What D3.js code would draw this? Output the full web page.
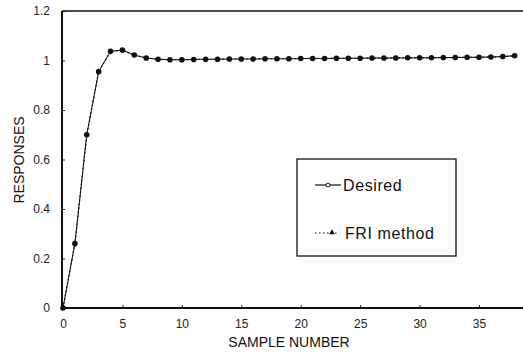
<!DOCTYPE html>
<html>
<head>
<meta charset="utf-8">
<script src="https://cdn.jsdelivr.net/npm/d3@7"></script>
<style>
  html, body { margin: 0; padding: 0; background: #fff; }
  svg { display: block; font-family: "Liberation Sans", Arial, Helvetica, sans-serif; }
</style>
</head>
<body>
<svg id="chart" width="523" height="353"></svg>
<script>
// ---- data ----
const samples = [0,1,2,3,4,5,6,7,8,9,10,11,12,13,14,15,16,17,18,19,20,21,22,23,24,25,26,27,28,29,30,31,32,33,34,35,36,37,38];
const desired = [0, 0.26, 0.70, 0.955, 1.037, 1.042, 1.022, 1.010, 1.005, 1.003, 1.003, 1.004, 1.005, 1.005, 1.006, 1.006, 1.006, 1.007, 1.007, 1.007, 1.008, 1.008, 1.008, 1.009, 1.009, 1.009, 1.010, 1.010, 1.010, 1.011, 1.011, 1.011, 1.012, 1.012, 1.013, 1.013, 1.014, 1.016, 1.019];
const friMethod = [0, 0.26, 0.70, 0.955, 1.037, 1.042, 1.022, 1.010, 1.005, 1.003, 1.003, 1.004, 1.005, 1.005, 1.006, 1.006, 1.006, 1.007, 1.007, 1.007, 1.008, 1.008, 1.008, 1.009, 1.009, 1.009, 1.010, 1.010, 1.010, 1.011, 1.011, 1.011, 1.012, 1.012, 1.013, 1.013, 1.014, 1.016, 1.019];
const xTicks = [0, 5, 10, 15, 20, 25, 30, 35];
const xTickLabels = ["0", "5", "10", "15", "20", "25", "30", "35"];
const yTicks = [0, 0.2, 0.4, 0.6, 0.8, 1.0, 1.2];
const yTickLabels = ["0", "0.2", "0.4", "0.6", "0.8", "1", "1.2"];
const seriesNames = ["Desired", "FRI method"];
const xTitle = "SAMPLE NUMBER";
const yTitle = "RESPONSES";

(function () {
// ---- layout ----
const svg = d3.select("#chart");
const padL = 62, padR = 523, padT = 11, padB = 308;
const x = d3.scaleLinear().domain([0, 38.7]).range([63, padR]);
const y = d3.scaleLinear().domain([0, 1.2]).range([padB, padT]);

// axes (inward ticks)
const xAxis = d3.axisBottom(x).tickValues(xTicks)
  .tickFormat((d, i) => xTickLabels[i]).tickSizeInner(-3).tickSizeOuter(0).tickPadding(11);
const yAxis = d3.axisLeft(y).tickValues(yTicks)
  .tickFormat((d, i) => yTickLabels[i]).tickSizeInner(-3).tickSizeOuter(0).tickPadding(12);

const gx = svg.append("g").attr("transform", `translate(0,${padB})`).call(xAxis);
gx.select(".domain").remove();
gx.selectAll("text").attr("font-size", 12).attr("fill", "#222");
gx.selectAll("line").attr("stroke", "#222");

const gy = svg.append("g").attr("transform", `translate(${padL},0)`).call(yAxis);
gy.select(".domain").remove();
gy.selectAll("text").attr("font-size", 12).attr("fill", "#222");
gy.selectAll("line").attr("stroke", "#222");

// frame lines
svg.append("line").attr("x1", padL).attr("x2", padR).attr("y1", padB).attr("y2", padB)
  .attr("stroke", "#111").attr("stroke-width", 2);
svg.append("line").attr("x1", padL).attr("x2", padL).attr("y1", padT).attr("y2", padB)
  .attr("stroke", "#111").attr("stroke-width", 2);
svg.append("line").attr("x1", padL).attr("x2", padR).attr("y1", padT).attr("y2", padT)
  .attr("stroke", "#111").attr("stroke-width", 1.6);

// series
const line = d3.line().x((d, i) => x(samples[i])).y(d => y(d));
svg.append("path").datum(desired).attr("d", line)
  .attr("fill", "none").attr("stroke", "#111").attr("stroke-width", 1);
svg.append("path").datum(friMethod).attr("d", line)
  .attr("fill", "none").attr("stroke", "#111").attr("stroke-width", 1.2).attr("stroke-dasharray", "2,2");

svg.append("g").selectAll("circle").data(friMethod).join("circle")
  .attr("cx", (d, i) => x(samples[i])).attr("cy", d => y(d)).attr("r", 2.8).attr("fill", "#111");

// axis titles
svg.append("text").attr("x", 289).attr("y", 347).attr("text-anchor", "middle")
  .attr("font-size", 14).attr("fill", "#111").text(xTitle);
svg.append("text").attr("transform", `translate(24,160) rotate(-90)`).attr("text-anchor", "middle")
  .attr("font-size", 14).attr("fill", "#111").text(yTitle);

// legend
const lg = svg.append("g");
lg.append("rect").attr("x", 297).attr("y", 159).attr("width", 159).attr("height", 97)
  .attr("fill", "#fff").attr("stroke", "#111").attr("stroke-width", 1.3);
lg.append("line").attr("x1", 315).attr("x2", 341).attr("y1", 185).attr("y2", 185)
  .attr("stroke", "#111").attr("stroke-width", 1.2);
lg.append("circle").attr("cx", 328).attr("cy", 185).attr("r", 2).attr("fill", "#fff")
  .attr("stroke", "#111").attr("stroke-width", 1);
lg.append("text").attr("x", 343).attr("y", 190.5).attr("font-size", 16).attr("fill", "#111")
  .attr("letter-spacing", 0.6).text(seriesNames[0]);
lg.append("line").attr("x1", 315).attr("x2", 339).attr("y1", 233).attr("y2", 233)
  .attr("stroke", "#111").attr("stroke-width", 1).attr("stroke-dasharray", "1.5,2.5");
lg.append("path").attr("d", d3.symbol(d3.symbolTriangle, 14)())
  .attr("transform", "translate(332,232.5)").attr("fill", "#111");
lg.append("text").attr("x", 345).attr("y", 238.5).attr("font-size", 16).attr("fill", "#111")
  .attr("letter-spacing", 0.6).text(seriesNames[1]);
})();
</script>
</body>
</html>
